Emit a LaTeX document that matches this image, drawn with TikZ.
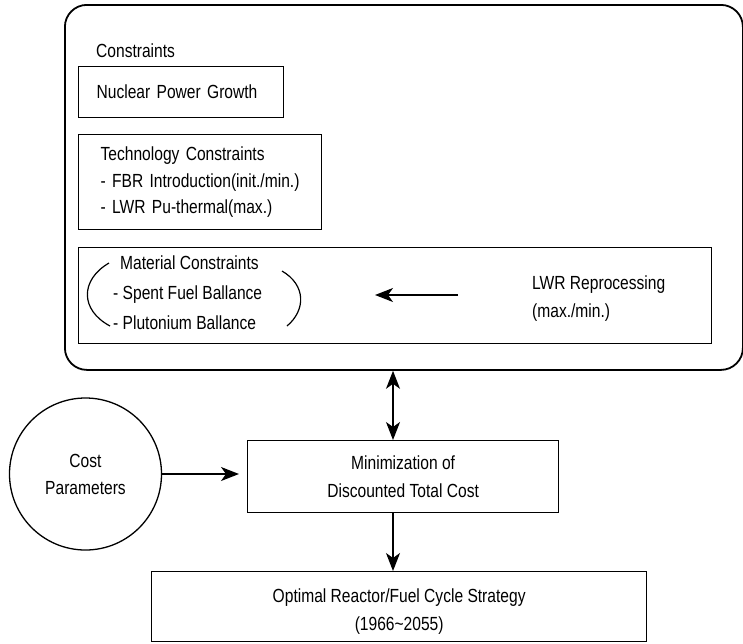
\documentclass[tikz,border=0pt]{standalone}
\usepackage{fontspec}
\setmainfont[FakeStretch=0.82]{Liberation Sans}
\usetikzlibrary{arrows.meta,calc}
\tikzset{
  txt/.style={inner sep=0pt, font=\fontsize{19}{28}\selectfont, align=left},
  box/.style={draw, line width=1.3pt, inner sep=0pt, font=\fontsize{19}{28}\selectfont},
  conn/.style={line width=1.3pt, -{Stealth[length=18pt,width=14pt,inset=5pt]}},
  conn2/.style={line width=1.3pt, {Stealth[length=18pt,width=14pt,inset=5pt]}-{Stealth[length=18pt,width=14pt,inset=5pt]}},
  paren/.style={line width=1.2pt}
}
\begin{document}
\begin{tikzpicture}[x=1pt,y=-1pt]
\useasboundingbox (0,0) rectangle (743,643);
% outer rounded frame
\node[draw, line width=1.8pt, rounded corners=22pt, minimum width=678pt, minimum height=365pt, anchor=north west, inner sep=0pt] (outer) at (64,4) {};
% title
\node[txt, anchor=base west] (title) at (96,57) {Constraints};
% nuclear power growth
\node[box, anchor=north west, minimum width=205pt, minimum height=51pt, text width=169pt, inner xsep=18pt, align=left] (npg) at (78,66) {Nuclear Power Growth};
% technology constraints
\node[box, anchor=north west, minimum width=243pt, minimum height=95pt, text width=199pt, inner xsep=22pt, align=left, font=\fontsize{19}{26.5}\selectfont] (tech) at (78,134)
  {Technology Constraints\\- FBR Introduction(init./min.)\\- LWR Pu-thermal(max.)};
% material box
\node[box, anchor=north west, minimum width=633pt, minimum height=96pt] (matbox) at (78,247) {};
\node[txt, anchor=base west, font=\fontsize{19}{30}\selectfont] (mat) at (113,329)
  {\hspace*{7pt}Material Constraints\\- Spent Fuel Ballance\\- Plutonium Ballance};
\draw[paren] (109,263) .. controls (80,280) and (80,310) .. (110,326);
\draw[paren] (282,271) .. controls (306,285) and (306,310) .. (287,326);
% LWR reprocessing
\node[txt, anchor=base west] (lwr) at (532,317) {LWR Reprocessing\\(max./min.)};
\coordinate (atail) at (458,295);
\coordinate (ahead) at (375,295);
\draw[conn] (atail) -- (ahead);
% minimization
\node[box, anchor=north west, minimum width=311pt, minimum height=72pt, align=center] (minb) at (247,440)
  {Minimization of\\Discounted Total Cost};
% cost parameters
\node[draw, circle, line width=1.3pt, minimum size=152pt, inner sep=0pt, align=center, font=\fontsize{19}{27}\selectfont] (cost) at (85.5,474) {Cost\\Parameters};
% strategy
\node[box, anchor=north west, minimum width=495pt, minimum height=70pt, align=center] (strat) at (151,571)
  {\rule{0pt}{24pt}Optimal Reactor/Fuel Cycle Strategy\\(1966\textasciitilde 2055)};
% connectors
\coordinate (ax) at (393,0);
\draw[conn2] (outer.south -| ax) -- (minb.north -| ax);
\draw[conn, shorten >=8pt] (cost.east) -- (cost.east -| minb.west);
\draw[conn] (minb.south -| ax) -- (strat.north -| ax);
\end{tikzpicture}
\end{document}
